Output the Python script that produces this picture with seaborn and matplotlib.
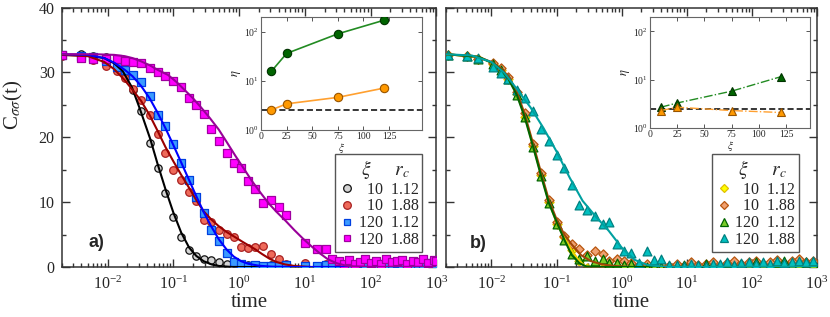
import numpy as np
import pandas as pd
import seaborn as sns
import matplotlib.pyplot as plt
from matplotlib.lines import Line2D
from matplotlib.ticker import LogLocator, MultipleLocator, NullLocator, FixedLocator

sns.set_style("ticks")
plt.rcParams['font.family'] = ['Liberation Serif', 'DejaVu Serif']
plt.rcParams['mathtext.fontset'] = 'stix'

# ---------------- panel a data (log10 of time) ----------------
logt_a = [-2.70, -2.40, -2.22, -2.02, -1.86, -1.74, -1.62, -1.49, -1.36, -1.24, -1.12, -1.00,
          -0.88, -0.76, -0.65, -0.54, -0.42, -0.31, -0.19, -0.08, 0.03, 0.14, 0.25, 0.36,
          0.48, 0.60, 0.71, 1.01, 1.18, 1.32, 1.42]
tail_a = [1.52, 1.60, 1.68, 1.76, 1.84, 1.92, 2.00, 2.08, 2.16, 2.24, 2.32, 2.40, 2.48,
          2.56, 2.64, 2.72, 2.80, 2.88, 2.96, 3.00]

black_a = [32.7, 32.8, 32.6, 32.3, 31.5, 29.8, 27.3, 24.0, 19.1, 15.2, 11.4, 7.7, 4.7, 2.6,
           1.7, 1.2, 1.1, 0.8, 0.5, 0.6, 0.4, 0.3, 0.3, 0.2, 0.3, 0.1, 0.2, 0.1, 0.2, 0.1, 0.0]
red_a = [32.6, 32.4, 31.9, 31.0, 30.2, 29.1, 27.4, 25.7, 23.5, 20.5, 17.5, 15.0, 13.4, 11.5,
         10.1, 7.3, 7.0, 5.7, 5.1, 4.7, 3.1, 2.9, 3.1, 3.2, 2.0, 1.2, 0.4, 0.65, 0.15, 0.4, 0.2]
blue_a = [32.7, 32.6, 32.4, 31.8, 30.9, 30.3, 29.6, 28.5, 26.4, 23.5, 21.7, 18.9, 16.1, 13.4,
          10.8, 8.4, 5.7, 4.0, 2.1, 0.8, 0.5, 0.2, 0.3, 0.1, 0.2, 0.1, 0.3, 0.2, 0.1, 0.3, 0.2]
magenta_a = [32.7, 32.2, 32.0, 32.0, 32.1, 31.7, 31.6, 31.5, 30.6, 30.0, 29.4, 28.6, 27.8, 26.0,
             25.0, 23.6, 21.3, 19.5, 17.6, 16.1, 15.2, 13.2, 12.1, 9.9, 10.3, 9.2, 8.0, 3.75,
             2.7, 2.7, 1.2]

black_tail_a = [0.1, 0.2, 0.0, 0.1, 0.2, 0.1, 0.0, 0.1, 0.2, 0.1, 0.0, 0.2, 0.1, 0.1, 0.0,
                0.2, 0.1, 0.0, 0.1, 0.2]
red_tail_a = [0.3, 0.5, 0.2, 0.4, 0.6, 0.3, 0.2, 0.5, 0.4, 0.3, 0.6, 0.2, 0.4, 0.5, 0.3,
              0.2, 0.5, 0.4, 0.3, 0.6]
blue_tail_a = [0.4, 0.2, 0.5, 0.3, 0.6, 0.2, 0.4, 0.3, 0.5, 0.2, 0.4, 0.6, 0.3, 0.2, 0.5,
               0.4, 0.3, 0.6, 0.2, 0.4]
magenta_tail_a = [0.9, 0.5, 1.1, 0.4, 0.8, 1.2, 0.6, 1.0, 0.5, 1.3, 0.7, 0.9, 1.1, 0.5, 1.0,
                  0.8, 1.3, 0.6, 1.1, 0.9]

# fit curves panel a (log10 t, C)
fit_black_t = [-2.70, -2.30, -2.05, -1.90, -1.77, -1.63, -1.51, -1.35, -1.24, -1.12, -1.00,
               -0.88, -0.76, -0.65, -0.54, -0.42, -0.30, -0.10, 3.0]
fit_black_c = [32.7, 32.6, 32.2, 31.4, 30.2, 27.7, 24.4, 19.7, 15.9, 12.0, 8.4, 5.3, 3.0,
               1.7, 0.9, 0.4, 0.15, 0.0, 0.0]
fit_red_t = [-2.70, -2.30, -2.05, -1.90, -1.74, -1.62, -1.49, -1.36, -1.24, -1.12, -1.00,
             -0.88, -0.76, -0.65, -0.54, -0.42, -0.31, -0.19, -0.06, 0.05, 0.15, 0.25, 0.35,
             0.46, 0.56, 0.70, 0.85, 1.10, 3.0]
fit_red_c = [32.7, 32.5, 31.6, 30.5, 28.8, 27.3, 25.6, 23.4, 21.0, 18.5, 16.3, 14.2, 12.2,
             10.3, 8.6, 7.3, 6.3, 5.4, 4.6, 3.9, 3.3, 2.7, 2.0, 1.3, 0.8, 0.4, 0.15, 0.0, 0.0]
fit_blue_t = [-2.70, -2.30, -2.05, -1.90, -1.74, -1.62, -1.49, -1.36, -1.24, -1.12, -1.00,
              -0.88, -0.76, -0.65, -0.54, -0.42, -0.31, -0.19, -0.08, 0.03, 0.14, 0.30, 0.50,
              0.80, 3.0]
fit_blue_c = [32.8, 32.7, 32.2, 31.5, 30.4, 29.4, 27.9, 26.0, 23.8, 21.4, 18.8, 16.1, 13.4,
              10.9, 8.5, 6.2, 4.3, 2.7, 1.6, 0.9, 0.5, 0.2, 0.05, 0.0, 0.0]
fit_magenta_t = [-2.70, -2.20, -1.90, -1.74, -1.62, -1.49, -1.36, -1.24, -1.08, -0.95, -0.83,
                 -0.70, -0.57, -0.44, -0.31, -0.19, -0.06, 0.07, 0.20, 0.33, 0.46, 0.58, 0.71,
                 0.84, 0.97, 1.10, 1.23, 1.35, 1.48, 1.61, 1.74, 2.00, 3.0]
fit_magenta_c = [32.8, 32.8, 32.7, 32.5, 32.2, 31.7, 31.1, 30.4, 29.6, 28.5, 27.3, 26.0, 24.5,
                 22.9, 21.2, 19.3, 17.2, 15.2, 13.2, 11.4, 9.7, 8.4, 7.1, 5.7, 4.4, 3.2, 2.1,
                 1.2, 0.6, 0.25, 0.1, 0.0, 0.0]

# ---------------- panel b data ----------------
logt_b = [-2.66, -2.38, -2.20, -1.98, -1.85, -1.74, -1.61, -1.49, -1.36, -1.24, -1.12, -0.99,
          -0.88, -0.77, -0.65, -0.53, -0.41, -0.29, -0.19, -0.07, 0.04, 0.15, 0.27, 0.39,
          0.50, 0.61, 0.73]
tail_b = [0.85, 0.96, 1.07, 1.18, 1.29, 1.40, 1.51, 1.62, 1.73, 1.84, 1.95, 2.06, 2.17, 2.28,
          2.39, 2.50, 2.61, 2.72, 2.83, 2.94]

yellow_b = [32.7, 32.5, 32.1, 31.3, 30.4, 29.0, 26.6, 23.2, 18.6, 14.2, 10.0, 6.6, 4.6, 2.6,
            0.9, -0.2, 0.0, -0.1, 0.0, 0.1, -0.2, 0.0, -0.1, 0.1, -0.2, 0.0, -0.1]
brown_b = [32.7, 32.5, 32.1, 31.4, 30.6, 29.3, 27.0, 23.7, 19.0, 14.5, 10.3, 7.0, 4.8, 3.6,
           2.8, 1.8, 2.4, 2.0, 1.0, 1.3, 0.9, 0.6, 0.3, 0.5, 0.2, 0.4, 0.1]
green_b = [32.7, 32.5, 32.0, 31.3, 30.4, 29.0, 26.5, 23.1, 18.5, 14.1, 9.9, 6.7, 4.2, 2.0,
           1.2, 1.7, 1.0, 1.3, 0.65, 0.65, 0.3, 0.5, 0.2, 0.0, 0.1, 0.0, 0.2]
cyan_b = [32.7, 32.5, 32.2, 30.9, 29.9, 29.0, 27.3, 26.1, 24.0, 21.3, 19.5, 17.2, 15.3, 12.7,
          9.5, 8.8, 7.8, 6.6, 6.9, 3.6, 2.4, 2.2, 0.6, 2.5, 1.1, 1.2, 0.3]

yellow_tail_b = [-0.2, 0.0, -0.1, 0.0, -0.2, 0.0, -0.1, -0.2, 0.0, -0.1, 0.0, -0.2, -0.1, 0.0,
                 -0.2, -0.1, 0.0, -0.2, -0.1, 0.0]
brown_tail_b = [0.5, 0.2, 0.7, 0.3, 0.4, 0.8, 0.2, 0.6, 0.9, 0.4, 0.7, 1.0, 0.5, 0.8, 1.1,
                0.6, 0.9, 1.2, 0.7, 1.0]
green_tail_b = [0.1, 0.3, 0.0, 0.2, 0.4, 0.1, 0.3, 0.6, 0.2, 0.5, 0.3, 0.7, 0.4, 0.2, 0.6,
                0.9, 0.3, 0.5, 0.8, 0.4]
cyan_tail_b = [0.3, 0.2, 0.4, 0.3, 0.2, 0.5, 0.4, 0.7, 0.3, 0.6, 0.8, 0.4, 0.7, 0.5, 0.9,
               0.6, 0.8, 1.0, 0.7, 0.9]

fit_yellow_t = [-2.70, -2.20, -1.98, -1.85, -1.74, -1.61, -1.49, -1.36, -1.24, -1.12, -0.99,
                -0.88, -0.77, -0.65, -0.53, -0.41, 3.0]
fit_yellow_c = [32.8, 32.4, 31.4, 30.5, 29.1, 26.7, 23.3, 18.7, 14.3, 10.1, 6.6, 4.6, 2.6,
                0.9, -0.1, 0.0, 0.0]
fit_brown_t = [-2.70, -2.20, -1.98, -1.85, -1.74, -1.61, -1.49, -1.36, -1.24, -1.12, -0.99,
               -0.88, -0.77, -0.62, -0.47, -0.30, -0.10, 0.20, 3.0]
fit_brown_c = [32.8, 32.4, 31.5, 30.6, 29.4, 27.0, 23.6, 19.0, 14.6, 10.4, 7.1, 5.0, 3.5,
               1.8, 0.9, 0.4, 0.15, 0.0, 0.0]
fit_green_t = [-2.70, -2.20, -1.98, -1.85, -1.74, -1.61, -1.49, -1.36, -1.24, -1.12, -0.99,
               -0.88, -0.77, -0.65, -0.55, -0.40, 3.0]
fit_green_c = [32.8, 32.4, 31.4, 30.4, 29.0, 26.5, 23.1, 18.5, 14.1, 9.9, 6.7, 4.2, 1.9,
               0.6, 0.1, 0.0, 0.0]
fit_cyan_t = [-2.70, -2.30, -2.00, -1.80, -1.60, -1.40, -1.20, -1.00, -0.80, -0.60, -0.40,
              -0.20, 0.00, 0.20, 0.40, 0.70, 3.0]
fit_cyan_c = [32.8, 32.6, 31.6, 29.9, 27.3, 24.6, 21.4, 17.8, 13.8, 10.2, 7.8, 5.6, 3.0,
              1.1, 0.3, 0.0, 0.0]

# ---------------- insets ----------------
xi = [10, 25, 75, 120]
eta_a_green = [15.5, 36.0, 90.0, 170.0]
eta_a_orange = [2.55, 3.4, 4.6, 7.1]
eta_b_green = [2.7, 3.3, 5.8, 11.5]
eta_b_orange = [2.3, 2.7, 2.3, 2.1]
eta_ref = 2.5

xi_labels = ['10', '10', '120', '120']
rc_labels = ['1.12', '1.88', '1.12', '1.88']


def style_main(ax):
    ax.set_xscale('log')
    ax.set_xlim(2e-3, 1e3)
    ax.set_ylim(0, 40)
    ax.xaxis.set_major_locator(LogLocator(base=10, numticks=20))
    ax.xaxis.set_minor_locator(LogLocator(base=10, subs=np.arange(2, 10), numticks=100))
    ax.yaxis.set_major_locator(MultipleLocator(10))
    ax.yaxis.set_minor_locator(MultipleLocator(5))
    ax.tick_params(which='both', direction='in', top=True, right=True, width=1,
                   color='#333333', labelsize=11.5)
    ax.tick_params(which='major', length=6)
    ax.tick_params(which='minor', length=3)
    ax.tick_params(axis='x', pad=6)
    for sp in ax.spines.values():
        sp.set_linewidth(1.1)
        sp.set_color('#333333')
    ax.set_xlabel('time', fontsize=15, labelpad=0)


def draw(ax, logt, vals, marker, s, fc, ec, ft, fc_line, lc, z):
    df = pd.DataFrame({'t': np.power(10.0, logt), 'C': vals})
    sns.scatterplot(data=df, x='t', y='C', marker=marker, s=s, color=fc, edgecolor=ec,
                    linewidth=0.9, ax=ax, zorder=z, legend=False)
    fdf = pd.DataFrame({'t': np.power(10.0, ft), 'C': fc_line})
    sns.lineplot(data=fdf, x='t', y='C', color=lc, lw=1.5, ax=ax, zorder=z + 10,
                 estimator=None, sort=False)


fig = plt.figure(figsize=(8.3, 3.17), dpi=100)
ax_a = fig.add_axes([0.0743, 0.1577, 0.4513, 0.8186])
ax_b = fig.add_axes([0.5373, 0.1577, 0.4470, 0.8186])
style_main(ax_a)
style_main(ax_b)

series_a = [
    (black_a + black_tail_a, 'o', 28, '#d4d4d4', '#111111', fit_black_t, fit_black_c, '#000000'),
    (red_a + red_tail_a, 'o', 30, '#ee6a5a', '#a82020', fit_red_t, fit_red_c, '#990000'),
    (blue_a + blue_tail_a, 's', 26, '#3b9bff', '#0040e0', fit_blue_t, fit_blue_c, '#0000ff'),
    (magenta_a + magenta_tail_a, 's', 26, '#ff00ff', '#a000a0', fit_magenta_t, fit_magenta_c,
     '#990099'),
]
for i, (vals, m, s, fc, ec, ft, fcv, lc) in enumerate(series_a):
    draw(ax_a, logt_a + tail_a, vals, m, s, fc, ec, ft, fcv, lc, 2 + i)

series_b = [
    (yellow_b + yellow_tail_b, 'D', 22, '#ffff00', '#e0c000', fit_yellow_t, fit_yellow_c, '#f0d000'),
    (brown_b + brown_tail_b, 'D', 22, '#f0a070', '#b8560f', fit_brown_t, fit_brown_c, '#a0460a'),
    (green_b + green_tail_b, '^', 40, '#7acc29', '#006400', fit_green_t, fit_green_c, '#006400'),
    (cyan_b + cyan_tail_b, '^', 40, '#00c0c0', '#008080', fit_cyan_t, fit_cyan_c, '#00a0a0'),
]
for i, (vals, m, s, fc, ec, ft, fcv, lc) in enumerate(series_b):
    draw(ax_b, logt_b + tail_b, vals, m, s, fc, ec, ft, fcv, lc, 2 + i)

ax_a.set_ylabel(r'C$_{\sigma\sigma}$(t)', fontsize=15)
ax_a.yaxis.set_label_coords(-0.098, 0.625)
ax_a.tick_params(axis='y', pad=5)
ax_b.tick_params(labelleft=False)
ax_b.set_ylabel('')

ax_a.text(0.092, 0.093, 'a)', transform=ax_a.transAxes, fontsize=13, fontweight='bold',
          family='Liberation Sans', ha='center', va='center')
ax_b.text(0.086, 0.089, 'b)', transform=ax_b.transAxes, fontsize=13, fontweight='bold',
          family='Liberation Sans', ha='center', va='center')


def add_legend(ax, specs, anchor):
    handles = [Line2D([], [], ls='', marker=m, ms=ms, mfc=fc, mec=ec, mew=0.9)
               for m, ms, fc, ec in specs]
    labels = [('  ' if len(x) == 2 else '') + x + '  ' + r for x, r in zip(xi_labels, rc_labels)]
    leg = ax.legend(handles, labels, title=r'   $\xi$     $r_c$', loc='lower right',
                    bbox_to_anchor=anchor, fontsize=11.5, title_fontsize=14,
                    frameon=True, fancybox=False, framealpha=1, edgecolor='#555555',
                    handletextpad=0.2, handlelength=1.0, labelspacing=0.05,
                    borderpad=0.25, borderaxespad=0)
    leg.get_frame().set_linewidth(1.0)
    leg.set_zorder(30)


add_legend(ax_a, [('o', 5.5, '#d4d4d4', '#111111'), ('o', 5.5, '#ee6a5a', '#a82020'),
                  ('s', 5.0, '#3b9bff', '#0040e0'), ('s', 5.0, '#ff00ff', '#a000a0')],
           (0.963, 0.058))
add_legend(ax_b, [('D', 4.5, '#ffff00', '#e0c000'), ('D', 4.5, '#f0a070', '#b8560f'),
                  ('^', 6.0, '#7acc29', '#006400'), ('^', 6.0, '#00c0c0', '#008080')],
           (0.951, 0.058))


def style_inset(ax, xmax):
    ax.set_yscale('log')
    ax.set_ylim(1, 200)
    ax.set_xlim(0, xmax)
    ax.xaxis.set_major_locator(FixedLocator([0, 25, 50, 75, 100, 125]))
    ax.yaxis.set_minor_locator(NullLocator())
    ax.tick_params(which='both', direction='in', top=True, right=True, length=3,
                   width=0.7, color='#555555', labelsize=7, pad=1.5)
    for sp in ax.spines.values():
        sp.set_linewidth(0.8)
        sp.set_color('#666666')
    ax.set_facecolor('white')
    ax.axhline(eta_ref, ls='--', color='black', lw=1.1, dashes=(4, 2), zorder=1)
    ax.set_xlabel(r'$\xi$', fontsize=8, labelpad=0)
    ax.set_ylabel(r'$\eta$', fontsize=9, labelpad=1)


ins_a = fig.add_axes([0.3145, 0.590, 0.1936, 0.357])
ins_a.set_zorder(40)
style_inset(ins_a, 157)
sns.lineplot(x=xi, y=eta_a_green, ax=ins_a, color='#228b22', lw=1.2, marker='o', ms=6,
             mfc='#006400', mec='#003300', mew=0.8, zorder=3)
sns.lineplot(x=xi, y=eta_a_orange, ax=ins_a, color='#ffa030', lw=1.2, marker='o', ms=6,
             mfc='#ff9900', mec='#995500', mew=0.8, zorder=3)

ins_b = fig.add_axes([0.7831, 0.596, 0.1928, 0.351])
ins_b.set_zorder(40)
style_inset(ins_b, 147)
sns.lineplot(x=xi, y=eta_b_green, ax=ins_b, color='#228b22', lw=1.0, marker='^', ms=6,
             mfc='#006400', mec='#003300', mew=0.8, zorder=3, linestyle='-.')
sns.lineplot(x=xi, y=eta_b_orange, ax=ins_b, color='#ffa030', lw=1.0, marker='^', ms=6,
             mfc='#ff9900', mec='#995500', mew=0.8, zorder=3, linestyle='-.')

fig.savefig('out.png', dpi=100)
